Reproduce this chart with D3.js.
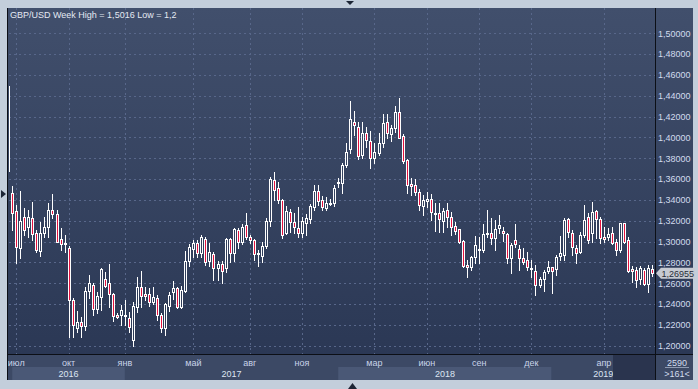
<!DOCTYPE html>
<html lang="ru">
<head>
<meta charset="UTF-8">
<title>GBP/USD Week</title>
<script src="https://d3js.org/d3.v7.min.js"></script>
<style>
  body { margin: 0; background: #c3cedb; }
  svg { display: block; }
  text { font-family: "Liberation Sans", Arial, sans-serif; font-size: 9px; }
</style>
</head>
<body>
<svg width="698" height="389"></svg>
<script>
// weekly candles (oldest first)
const open = [
  1.4498, 1.3464, 1.3294, 1.2941, 1.3239, 1.3143, 1.3227, 1.3085, 1.2913, 1.3080,
  1.3143, 1.3301, 1.3262, 1.3025, 1.2989, 1.2941, 1.2439, 1.2167, 1.2225, 1.2192,
  1.2525, 1.2583, 1.2350, 1.2471, 1.2641, 1.2599, 1.2497, 1.2295, 1.2295, 1.2295,
  1.2263, 1.2055, 1.2375, 1.2567, 1.2494, 1.2494, 1.2423, 1.2455, 1.2295, 1.2167,
  1.2381, 1.2519, 1.2551, 1.2375, 1.2525, 1.2814, 1.2929, 1.2984, 1.2888, 1.3025,
  1.2817, 1.2881, 1.2744, 1.2785, 1.2744, 1.3025, 1.2888, 1.3111, 1.2999, 1.3159,
  1.3047, 1.3015, 1.2890, 1.2862, 1.2961, 1.3198, 1.3592, 1.3512, 1.3400, 1.3085,
  1.3281, 1.3185, 1.3128, 1.3080, 1.3176, 1.3217, 1.3330, 1.3486, 1.3400, 1.3320,
  1.3366, 1.3368, 1.3563, 1.3566, 1.3736, 1.3890, 1.4146, 1.4098, 1.3832, 1.4046,
  1.3969, 1.3806, 1.3854, 1.3944, 1.4152, 1.4031, 1.4088, 1.4242, 1.4014, 1.3784,
  1.3550, 1.3544, 1.3479, 1.3342, 1.3390, 1.3406, 1.3265, 1.3272, 1.3201, 1.3304,
  1.3233, 1.3150, 1.3118, 1.3006, 1.2775, 1.2753, 1.2849, 1.2919, 1.2919, 1.3080,
  1.3080, 1.3032, 1.3128, 1.3102, 1.3073, 1.2840, 1.3015, 1.2929, 1.2845, 1.2823,
  1.2734, 1.2718, 1.2583, 1.2641, 1.2720, 1.2753, 1.2734, 1.2862, 1.2871, 1.3214,
  1.3080, 1.2936, 1.2903, 1.3063, 1.3239, 1.3080, 1.3297, 1.3214, 1.3041, 1.3041,
  1.3080, 1.2996, 1.2919, 1.3176, 1.3015, 1.2734, 1.2727, 1.2638, 1.2727, 1.2593,
  1.2737
];
const high = [
  1.5016, 1.3534, 1.3352, 1.3486, 1.3326, 1.3304, 1.3380, 1.3111, 1.3191, 1.3239,
  1.3371, 1.3454, 1.3304, 1.3131, 1.3063, 1.2958, 1.2458, 1.2333, 1.2279, 1.2567,
  1.2679, 1.2599, 1.2519, 1.2744, 1.2711, 1.2782, 1.2509, 1.2311, 1.2391, 1.2439,
  1.2321, 1.2423, 1.2663, 1.2718, 1.2567, 1.2551, 1.2561, 1.2487, 1.2311, 1.2407,
  1.2519, 1.2622, 1.2567, 1.2576, 1.2910, 1.2977, 1.3015, 1.3015, 1.3063, 1.3047,
  1.2984, 1.2903, 1.2814, 1.2817, 1.3032, 1.3037, 1.3128, 1.3134, 1.3166, 1.3272,
  1.3063, 1.3022, 1.2919, 1.2999, 1.3227, 1.3618, 1.3666, 1.3575, 1.3409, 1.3345,
  1.3310, 1.3272, 1.3330, 1.3239, 1.3265, 1.3361, 1.3544, 1.3544, 1.3438, 1.3426,
  1.3406, 1.3544, 1.3608, 1.3758, 1.3950, 1.4351, 1.4255, 1.4152, 1.4152, 1.4098,
  1.4062, 1.3944, 1.4046, 1.4223, 1.4223, 1.4120, 1.4303, 1.4382, 1.4031, 1.3791,
  1.3608, 1.3598, 1.3505, 1.3448, 1.3476, 1.3457, 1.3368, 1.3368, 1.3320, 1.3368,
  1.3287, 1.3191, 1.3121, 1.3015, 1.2823, 1.2862, 1.3054, 1.3047, 1.3169, 1.3304,
  1.3224, 1.3208, 1.3256, 1.3143, 1.3080, 1.2984, 1.3169, 1.2967, 1.2936, 1.2903,
  1.2823, 1.2775, 1.2663, 1.2727, 1.2814, 1.2759, 1.2871, 1.3054, 1.3224, 1.3224,
  1.3111, 1.2967, 1.3095, 1.3352, 1.3272, 1.3383, 1.3304, 1.3239, 1.3143, 1.3128,
  1.3143, 1.3022, 1.3182, 1.3182, 1.3047, 1.2766, 1.2753, 1.2766, 1.2744, 1.2775,
  1.2775
];
const low = [
  1.3229, 1.3111, 1.2797, 1.2842, 1.3063, 1.3047, 1.3015, 1.2903, 1.2865, 1.3047,
  1.3047, 1.3224, 1.2995, 1.2919, 1.2903, 1.2086, 1.2086, 1.2132, 1.2086, 1.2151,
  1.2458, 1.2295, 1.2311, 1.2343, 1.2567, 1.2375, 1.2237, 1.2269, 1.2199, 1.2199,
  1.2134, 1.2000, 1.2327, 1.2375, 1.2439, 1.2384, 1.2401, 1.2247, 1.2134, 1.2103,
  1.2336, 1.2446, 1.2359, 1.2359, 1.2519, 1.2768, 1.2855, 1.2855, 1.2855, 1.2775,
  1.2768, 1.2631, 1.2631, 1.2599, 1.2711, 1.2807, 1.2814, 1.2941, 1.2977, 1.3025,
  1.2984, 1.2823, 1.2768, 1.2804, 1.2936, 1.3150, 1.3400, 1.3368, 1.3032, 1.3073,
  1.3095, 1.3085, 1.3047, 1.3041, 1.3063, 1.3176, 1.3304, 1.3352, 1.3304, 1.3304,
  1.3352, 1.3342, 1.3527, 1.3464, 1.3714, 1.3848, 1.4024, 1.3791, 1.3800, 1.3912,
  1.3710, 1.3758, 1.3832, 1.3912, 1.3998, 1.3966, 1.4050, 1.3995, 1.3752, 1.3464,
  1.3448, 1.3448, 1.3304, 1.3256, 1.3332, 1.3208, 1.3102, 1.3095, 1.3095, 1.3143,
  1.3063, 1.3070, 1.2984, 1.2753, 1.2663, 1.2727, 1.2792, 1.2792, 1.2903, 1.3047,
  1.2977, 1.2919, 1.3080, 1.3009, 1.2792, 1.2695, 1.2951, 1.2727, 1.2785, 1.2727,
  1.2657, 1.2487, 1.2567, 1.2528, 1.2695, 1.2503, 1.2679, 1.2823, 1.2823, 1.3047,
  1.2871, 1.2792, 1.2888, 1.3047, 1.2984, 1.2999, 1.3032, 1.2984, 1.2999, 1.3015,
  1.2977, 1.2871, 1.2903, 1.2984, 1.2711, 1.2615, 1.2567, 1.2593, 1.2583, 1.2519,
  1.2670
];
const close = [
  1.3681, 1.3272, 1.2951, 1.3198, 1.3111, 1.3239, 1.3073, 1.2919, 1.3085, 1.3143,
  1.3304, 1.3268, 1.3000, 1.2977, 1.2977, 1.2439, 1.2199, 1.2231, 1.2192, 1.2528,
  1.2599, 1.2350, 1.2477, 1.2737, 1.2576, 1.2494, 1.2288, 1.2279, 1.2343, 1.2290,
  1.2183, 1.2381, 1.2561, 1.2480, 1.2480, 1.2417, 1.2465, 1.2295, 1.2167, 1.2401,
  1.2487, 1.2551, 1.2375, 1.2535, 1.2814, 1.2951, 1.2984, 1.2888, 1.3047, 1.2807,
  1.2897, 1.2744, 1.2785, 1.2720, 1.3025, 1.2888, 1.3118, 1.2999, 1.3137, 1.3041,
  1.3015, 1.2878, 1.2881, 1.2958, 1.3201, 1.3598, 1.3496, 1.3400, 1.3063, 1.3297,
  1.3191, 1.3137, 1.3080, 1.3198, 1.3224, 1.3342, 1.3486, 1.3390, 1.3330, 1.3368,
  1.3371, 1.3512, 1.3570, 1.3736, 1.3858, 1.4175, 1.4120, 1.3825, 1.4046, 1.3976,
  1.3800, 1.3864, 1.3944, 1.4136, 1.4040, 1.4088, 1.4242, 1.3998, 1.3774, 1.3544,
  1.3534, 1.3479, 1.3352, 1.3400, 1.3406, 1.3287, 1.3278, 1.3214, 1.3294, 1.3233,
  1.3137, 1.3102, 1.2999, 1.2768, 1.2753, 1.2849, 1.2967, 1.2926, 1.3070, 1.3085,
  1.3032, 1.3118, 1.3159, 1.3080, 1.2840, 1.2967, 1.2974, 1.2840, 1.2807, 1.2753,
  1.2744, 1.2583, 1.2641, 1.2711, 1.2753, 1.2720, 1.2855, 1.2890, 1.3208, 1.3095,
  1.2951, 1.2888, 1.3063, 1.3208, 1.3015, 1.3287, 1.3214, 1.3032, 1.3022, 1.3073,
  1.2989, 1.2919, 1.3176, 1.2999, 1.2720, 1.2720, 1.2631, 1.2744, 1.2593, 1.2744,
  1.26955
];

const priceTicks = [1.20, 1.22, 1.24, 1.26, 1.28, 1.30, 1.32, 1.34, 1.36, 1.38, 1.40, 1.42, 1.44, 1.46, 1.48, 1.50];
const monthLabels = ["июл", "окт", "янв", "май", "авг", "ноя", "мар", "июн", "сен", "дек", "апр"];
const monthIndex = [2, 15, 29, 46, 60, 73, 91, 104, 117, 130, 148];
const yearLabels = ["2016", "2017", "2018", "2019"];
const yearStart = [1, 29, 82, 135];
const lastPrice = 1.26955;
const title = "GBP/USD Week High = 1,5016 Low = 1,2";
const barsTotal = "2590";
const barsShown = ">161<";

const svg = d3.select("svg");
const plot = { left: 9, right: 655, top: 8, bottom: 354 };

const candles = open.map((o, i) => ({ i, o, h: high[i], l: low[i], c: close[i] }));

const x = d3.scaleLinear().domain([0, candles.length - 1]).range([8.2, 652.2]);
const y = d3.scaleLinear().domain([1.20, 1.50]).range([345.7, 33.3]);
const px = v => Math.round(v) + 0.5;
const fmt = v => d3.format(".5f")(v).replace(".", ",");

const defs = svg.append("defs");
const grad = defs.append("linearGradient")
    .attr("id", "bg").attr("gradientUnits", "userSpaceOnUse")
    .attr("x1", 0).attr("y1", plot.top).attr("x2", 0).attr("y2", plot.bottom);
grad.append("stop").attr("offset", 0).attr("stop-color", "#414f6c");
grad.append("stop").attr("offset", 1).attr("stop-color", "#2b3855");
defs.append("clipPath").attr("id", "clip").append("rect")
    .attr("x", plot.left).attr("y", plot.top)
    .attr("width", plot.right - plot.left).attr("height", plot.bottom - plot.top);

// frame
svg.append("rect").attr("x", 8).attr("y", 8).attr("width", 685).attr("height", 346).attr("fill", "url(#bg)");
svg.append("rect").attr("x", 8).attr("y", 355).attr("width", 685).attr("height", 25).attr("fill", "#3c4965");

// grid
const grid = svg.append("g").attr("clip-path", "url(#clip)")
    .attr("stroke", "#58678a").attr("stroke-dasharray", "2,3").attr("stroke-width", 1);
grid.selectAll(".hg").data(priceTicks).enter().append("line")
    .attr("x1", plot.left).attr("x2", plot.right)
    .attr("y1", d => px(y(d))).attr("y2", d => px(y(d)));
grid.selectAll(".vg").data(monthIndex).enter().append("line")
    .attr("y1", plot.top).attr("y2", plot.bottom)
    .attr("x1", d => px(x(d))).attr("x2", d => px(x(d)));

// candles
const cg = svg.append("g").attr("clip-path", "url(#clip)");
cg.selectAll("line.wick").data(candles).enter().append("line")
    .attr("class", "wick")
    .attr("x1", d => px(x(d.i))).attr("x2", d => px(x(d.i)))
    .attr("y1", d => Math.round(y(d.h))).attr("y2", d => Math.round(y(d.l)) + 1)
    .attr("stroke", "#ffffff");
cg.selectAll("rect.body").data(candles).enter().append("rect")
    .attr("class", "body")
    .attr("x", d => Math.round(x(d.i)) - 0.5)
    .attr("width", 2)
    .attr("y", d => Math.round(y(Math.max(d.o, d.c))) + 0.5)
    .attr("height", d => Math.max(1, Math.round(y(Math.min(d.o, d.c))) - Math.round(y(Math.max(d.o, d.c)))))
    .attr("fill", d => d.c < d.o ? "#e3123f" : "url(#bg)")
    .attr("stroke", "#ffffff");

// title
svg.append("text").attr("x", 10).attr("y", 18).attr("fill", "#e4e9f2").text(title);

// right axis
svg.append("g").selectAll("text").data(priceTicks).enter().append("text")
    .attr("x", 658).attr("y", d => y(d) + 3.3)
    .attr("fill", "#d2dcee").text(fmt);

// last price marker
const ly = y(lastPrice);
svg.append("path")
    .attr("d", `M656,${ly} L661,${ly - 5.5} L695,${ly - 5.5} L695,${ly + 5.5} L661,${ly + 5.5} Z`)
    .attr("fill", "#c6cad2");
svg.append("text").attr("x", 661.5).attr("y", ly + 3.3).attr("fill", "#262c38").text(fmt(lastPrice));

// year bands and labels
const yearEnd = yearStart.slice(1).map(i => x(i)).concat([plot.right]);
const bands = svg.append("g");
yearLabels.forEach((lab, k) => {
    const x0 = x(yearStart[k]), x1 = yearEnd[k];
    bands.append("rect").attr("x", x0).attr("y", 367).attr("width", x1 - x0).attr("height", 13)
        .attr("fill", k % 2 === 0 ? "#4a5876" : "#3c4965");
    bands.append("text").attr("x", (x0 + x1) / 2).attr("y", 377).attr("text-anchor", "middle")
        .attr("fill", "#dde5f2").text(lab);
});

// month labels
svg.append("g").selectAll("text").data(monthIndex).enter().append("text")
    .attr("x", d => x(d)).attr("y", 366).attr("text-anchor", "middle")
    .attr("fill", "#c9d4e9").text((d, k) => monthLabels[k]);

// scroll box
svg.append("rect").attr("x", 613).attr("y", 355).attr("width", 42).attr("height", 25).attr("fill", "#2a344e");

// bar counter
svg.append("text").attr("x", 677).attr("y", 366).attr("text-anchor", "middle").attr("fill", "#d2dcee").text(barsTotal);
svg.append("line").attr("x1", 665).attr("x2", 689).attr("y1", 367.5).attr("y2", 367.5).attr("stroke", "#8e9ab2");
svg.append("text").attr("x", 677).attr("y", 377).attr("text-anchor", "middle").attr("fill", "#d2dcee").text(barsShown);

// separators
const sep = svg.append("g").attr("stroke", "#0c0f16").attr("stroke-width", 1);
sep.append("line").attr("x1", 7.5).attr("x2", 7.5).attr("y1", 8).attr("y2", 380);
sep.append("line").attr("x1", 655.5).attr("x2", 655.5).attr("y1", 8).attr("y2", 380);
sep.append("line").attr("x1", 8).attr("x2", 693).attr("y1", 354.5).attr("y2", 354.5);

// little arrows on the frame
svg.append("path").attr("d", "M346,1 L354,1 L350,5 Z").attr("fill", "#1c2535");
svg.append("path").attr("d", "M348,389 L357,389 L352.5,383 Z").attr("fill", "#1c2535");
svg.append("path").attr("d", "M1,190 L6,194 L1,198 Z").attr("fill", "#1c2535");
</script>
</body>
</html>
